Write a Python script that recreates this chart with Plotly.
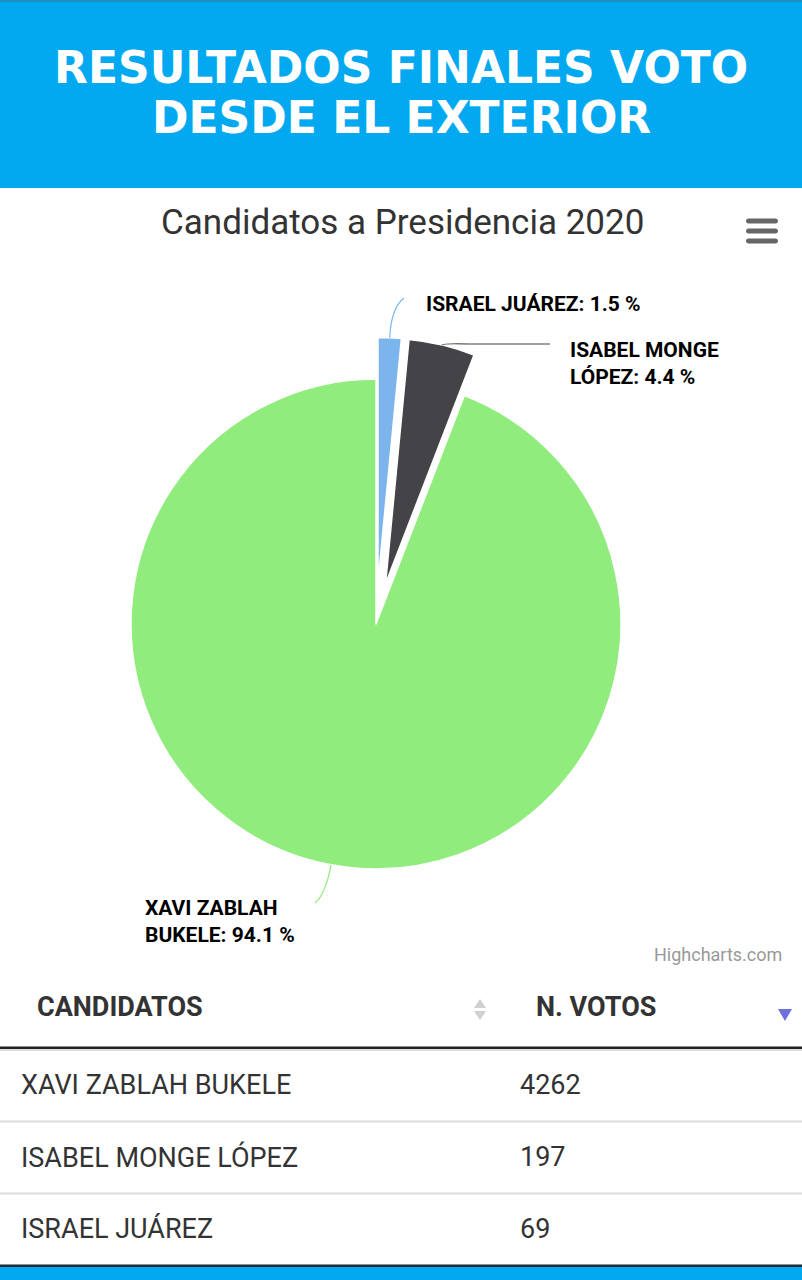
import math
import plotly.graph_objects as go

# ---------------- data ----------------
candidates = ["XAVI ZABLAH BUKELE", "ISABEL MONGE LÓPEZ", "ISRAEL JUÁREZ"]
votes = [4262, 197, 69]
pie_label_names = ["XAVI ZABLAH<br>BUKELE", "ISABEL MONGE<br>LÓPEZ", "ISRAEL JUÁREZ"]
table_header = ["CANDIDATOS", "N. VOTOS"]
banner_lines = ["RESULTADOS FINALES VOTO", "DESDE EL EXTERIOR"]
chart_title = "Candidatos a Presidencia 2020"
credit_text = "Highcharts.com"

# ---------------- style ----------------
colors = ["#90ed7d", "#434348", "#7cb5ec"]
pulls = [0, 0.17, 0.17]
W, H = 802, 1280
CX, CY, R = 376, 624, 245
BLUE = "#03a9f0"
FONT = "Roboto"

# connector / label placement per candidate (table order)
conn_ctrl = [30, 2, 30]
conn_bend = [(315, 903), (470, 344), (404, 298)]
conn_end = [(315, 903), (550, 344), (404, 298)]
label_anchor = [(143, 921), (568, 363), (424, 304)]


def px(x):
    return x / W


def py(y):
    return 1 - y / H


def pt(x, y):
    return f"{px(x):.5f},{py(y):.5f}"


# pie is drawn clockwise from 12 o'clock, smallest slice first
order = list(range(len(votes)))[::-1]

half = R * (1 + max(pulls))
fig = go.Figure()
fig.add_trace(go.Pie(
    values=[votes[i] for i in order], labels=[candidates[i] for i in order],
    sort=False, direction="clockwise", rotation=0,
    pull=[pulls[i] for i in order], textinfo="none", hoverinfo="label+percent",
    marker=dict(colors=[colors[i] for i in order], line=dict(color="white", width=1.5)),
    domain=dict(x=[px(CX - half), px(CX + half)], y=[py(CY + half), py(CY - half)]),
    showlegend=False,
))

shapes = []
annotations = []

# banner
shapes.append(dict(type="rect", xref="paper", yref="paper", x0=0, x1=1,
                   y0=py(188), y1=1, fillcolor=BLUE, line=dict(width=0), layer="below"))
shapes.append(dict(type="rect", xref="paper", yref="paper", x0=0, x1=1,
                   y0=py(2), y1=1, fillcolor="#1b8fc0", line=dict(width=0)))
for line, yc in zip(banner_lines, [67, 117]):
    annotations.append(dict(xref="paper", yref="paper", x=px(401), y=py(yc), text=line,
                            showarrow=False, xanchor="center", yanchor="middle",
                            font=dict(family="DejaVu Sans", size=44, color="white",
                                      weight="bold")))

# chart title
annotations.append(dict(xref="paper", yref="paper", x=px(402), y=py(222), text=chart_title,
                        showarrow=False, xanchor="center", yanchor="middle",
                        font=dict(family=FONT, size=35, color="#333333")))

# hamburger menu
for yc in [221, 231, 241]:
    x0, x1, r = 746, 778, 2.6
    y0, y1 = yc - r, yc + r
    k = r * 1.33
    path = (f"M {pt(x0 + r, y0)} L {pt(x1 - r, y0)} "
            f"C {pt(x1 - r + k, y0)} {pt(x1 - r + k, y1)} {pt(x1 - r, y1)} "
            f"L {pt(x0 + r, y1)} "
            f"C {pt(x0 + r - k, y1)} {pt(x0 + r - k, y0)} {pt(x0 + r, y0)} Z")
    shapes.append(dict(type="path", xref="paper", yref="paper", path=path,
                       fillcolor="#666666", line=dict(width=0)))

# pie labels and connectors (angles derived from the data, clockwise from top)
total = sum(votes)
cum = 0.0
for i in order:
    frac = votes[i] / total
    mid = math.radians((cum + frac / 2) * 360)
    cum += frac
    ux, uy = math.sin(mid), -math.cos(mid)
    dist = R * (1 + pulls[i])
    sx, sy = CX + dist * ux, CY + dist * uy
    cx, cy = sx + conn_ctrl[i] * ux, sy + conn_ctrl[i] * uy
    bx, by = conn_bend[i]
    ex, ey = conn_end[i]
    path = f"M {pt(sx, sy)} Q {pt(cx, cy)} {pt(bx, by)} L {pt(ex, ey)}"
    shapes.append(dict(type="path", xref="paper", yref="paper", path=path,
                       line=dict(color=colors[i], width=1.2)))
    lx, ly = label_anchor[i]
    annotations.append(dict(xref="paper", yref="paper", x=px(lx), y=py(ly),
                            text=f"{pie_label_names[i]}: {frac * 100:.1f} %",
                            showarrow=False, xanchor="left", yanchor="middle", align="left",
                            font=dict(family=FONT, size=21, color="#000000", weight="bold")))

# credit
annotations.append(dict(xref="paper", yref="paper", x=px(784), y=py(954), text=credit_text,
                        showarrow=False, xanchor="right", yanchor="middle",
                        font=dict(family=FONT, size=18, color="#999999")))

# table header
col_x = [35, 534]
for txt, x in zip(table_header, col_x):
    annotations.append(dict(xref="paper", yref="paper", x=px(x), y=py(1007), text=txt,
                            showarrow=False, xanchor="left", yanchor="middle",
                            font=dict(family=FONT, size=27, color="#333333", weight="bold")))


def tri(x0, y0, x1, y1, x2, y2, col):
    shapes.append(dict(type="path", xref="paper", yref="paper",
                       path=f"M {pt(x0, y0)} L {pt(x1, y1)} L {pt(x2, y2)} Z",
                       fillcolor=col, line=dict(width=0)))


tri(474, 1008, 486, 1008, 480, 999, "#d0d0d0")
tri(474, 1011, 486, 1011, 480, 1020, "#d0d0d0")
tri(778, 1009, 792, 1009, 785, 1021, "#6d71d9")


def hband(y0, y1, col):
    shapes.append(dict(type="rect", xref="paper", yref="paper", x0=0, x1=1,
                       y0=py(y1), y1=py(y0), fillcolor=col, line=dict(width=0)))


hband(1046.5, 1049, "#222222")
hband(1049, 1051, "#dddddd")
hband(1120.5, 1122.5, "#dddddd")
hband(1192.5, 1194.5, "#dddddd")
hband(1264.5, 1267, "#1d2b33")
hband(1267, 1280, BLUE)

# table rows
row_y = [1085, 1157, 1229]
for name, v, yc in zip(candidates, votes, row_y):
    annotations.append(dict(xref="paper", yref="paper", x=px(19), y=py(yc), text=name,
                            showarrow=False, xanchor="left", yanchor="middle",
                            font=dict(family=FONT, size=27, color="#333333")))
    annotations.append(dict(xref="paper", yref="paper", x=px(518), y=py(yc), text=str(v),
                            showarrow=False, xanchor="left", yanchor="middle",
                            font=dict(family=FONT, size=27, color="#333333")))

fig.update_layout(
    width=W, height=H, margin=dict(l=0, r=0, t=0, b=0),
    paper_bgcolor="white", plot_bgcolor="white",
    shapes=shapes, annotations=annotations,
)
fig.write_html("out.html", config={"displayModeBar": False},
               post_script="document.body.style.margin='0';")
